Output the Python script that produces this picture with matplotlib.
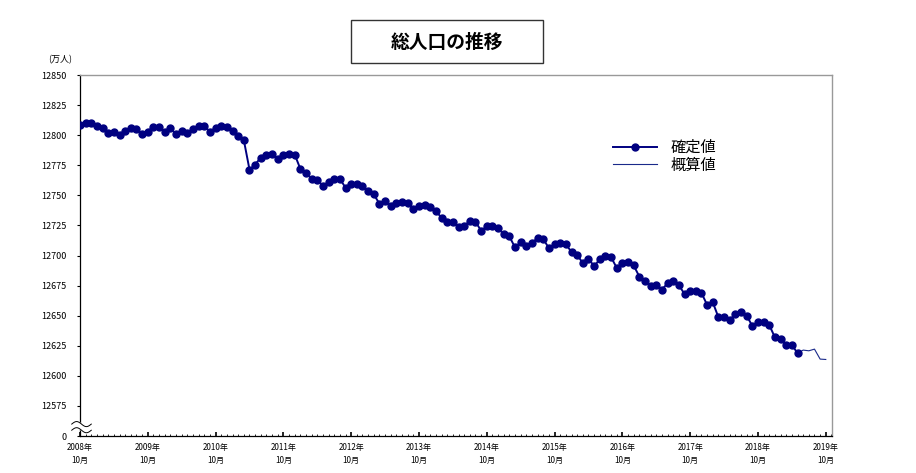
import matplotlib
matplotlib.use("Agg")
import matplotlib.pyplot as plt
from matplotlib.patches import Rectangle
from matplotlib.ticker import FixedLocator, MultipleLocator, FuncFormatter
import numpy as np

plt.rcParams['font.family'] = ['Noto Sans CJK JP', 'DejaVu Sans']

# Monthly data from 2008-10 (index 0) to 2019-10 (index 132), unit: 10,000 persons
confirmed = [
    12808.3, 12810.3, 12810.3, 12808.0, 12805.6, 12801.4, 12802.8, 12800.5, 12803.6, 12805.6,
    12805.0, 12801.0, 12803.0, 12807.0, 12807.0, 12803.0, 12805.6, 12801.0, 12803.6, 12801.4,
    12805.0, 12807.5, 12807.5, 12803.0, 12806.0, 12808.0, 12807.0, 12803.6, 12799.4, 12795.8,
    12771.4, 12775.6, 12781.4, 12783.9, 12784.7, 12780.3, 12783.9, 12784.7, 12783.9, 12772.0,
    12768.6, 12763.9, 12762.8, 12758.0, 12761.0, 12763.6, 12763.6, 12756.4, 12759.7, 12759.4,
    12758.0, 12753.6, 12750.8, 12743.0, 12745.6, 12741.0, 12743.6, 12744.4, 12744.0, 12738.3,
    12741.2, 12741.7, 12740.0, 12736.7, 12731.4, 12727.5, 12727.8, 12723.9, 12724.4, 12728.9,
    12728.0, 12720.6, 12724.2, 12724.4, 12723.0, 12717.5, 12715.8, 12706.7, 12711.1, 12708.0,
    12710.6, 12714.4, 12713.6, 12706.1, 12709.4, 12710.8, 12709.2, 12703.0, 12700.6, 12693.6,
    12697.5, 12691.0, 12697.0, 12699.2, 12698.6, 12689.7, 12693.6, 12694.4, 12691.7, 12682.5,
    12679.2, 12675.0, 12675.8, 12671.7, 12676.9, 12679.2, 12675.3, 12668.0, 12670.8, 12670.8,
    12668.9, 12658.9, 12661.1, 12648.6, 12649.2, 12646.4, 12651.4, 12652.8, 12650.0, 12641.4,
    12644.4, 12645.0, 12642.2, 12631.9, 12630.6, 12625.6, 12625.6, 12618.9,
]
estimate_start = 127
estimate = [12618.9, 12621.4, 12620.8, 12622.2, 12613.9, 12613.6]

year_labels = [f"{y}年\n10月" for y in range(2008, 2020)]
y_ticks = [12550, 12575, 12600, 12625, 12650, 12675, 12700, 12725, 12750, 12775, 12800, 12825, 12850]

title = "総人口の推移"
legend_labels = ["確定値", "概算値"]
unit_label = "(万人)"

navy = "#000080"

fig = plt.figure(figsize=(9.16, 4.73), dpi=100)
ax = fig.add_axes([80 / 916, 1 - 436 / 473, (832 - 80) / 916, (436 - 75) / 473])

x_conf = np.arange(len(confirmed))
x_est = np.arange(estimate_start, estimate_start + len(estimate))

ax.plot(x_conf, confirmed, color=navy, lw=1.4, marker='o', markersize=5.0,
        markeredgecolor=navy, markerfacecolor=navy, label=legend_labels[0], zorder=3)
ax.plot(x_est, estimate, color="#1a2a8a", lw=0.8, label=legend_labels[1], zorder=2)

ax.set_xlim(0, 133.1)
ax.set_ylim(12550, 12850)

ax.xaxis.set_major_locator(FixedLocator(list(range(0, 133, 12))))
ax.xaxis.set_minor_locator(MultipleLocator(1))
ax.set_xticklabels(year_labels, fontsize=5.8, linespacing=1.6)
ax.tick_params(axis='x', which='major', direction='in', length=3, width=1.2, pad=5)
ax.tick_params(axis='x', which='minor', direction='in', length=1.8, width=0.6)

ax.yaxis.set_major_locator(FixedLocator(y_ticks))
ax.yaxis.set_major_formatter(FuncFormatter(lambda v, p: "0" if abs(v - 12550) < 1 else f"{v:.0f}"))
ax.tick_params(axis='y', which='major', direction='out', length=2.5, width=0.8, labelsize=6.5, pad=7)

for side in ['top', 'right']:
    ax.spines[side].set_color('#999999')
    ax.spines[side].set_linewidth(1.0)
for side in ['left', 'bottom']:
    ax.spines[side].set_color('black')
    ax.spines[side].set_linewidth(0.9)

# axis break mark
tt = np.linspace(0, 1, 30)
bx = -0.011 + 0.026 * tt
w = 0.007 * np.sin(tt * 2 * np.pi)
lo, hi = 0.016, 0.033
ax.fill_between(bx, lo + w, hi + w, transform=ax.transAxes, color='white', clip_on=False, zorder=4)
for off in (lo, hi):
    ax.plot(bx, off + w, transform=ax.transAxes, color='black', lw=0.7, clip_on=False, zorder=5)

ax.legend(loc='upper left', bbox_to_anchor=(0.70, 0.84), frameon=False,
          fontsize=11, handlelength=2.9, labelspacing=0.05, handletextpad=0.9,
          borderaxespad=0)

# title box
fig.patches.append(Rectangle((351 / 916, 1 - 63 / 473), (543 - 351) / 916, (63 - 20) / 473,
                             transform=fig.transFigure, fill=False, edgecolor='#333333', lw=1.0))
fig.text(447 / 916, 1 - 42 / 473, title, ha='center', va='center', fontsize=13.5, fontweight='bold')

fig.text(60 / 916, 1 - 60 / 473, unit_label, ha='center', va='center', fontsize=6.5)

fig.savefig("out.png", dpi=100)
